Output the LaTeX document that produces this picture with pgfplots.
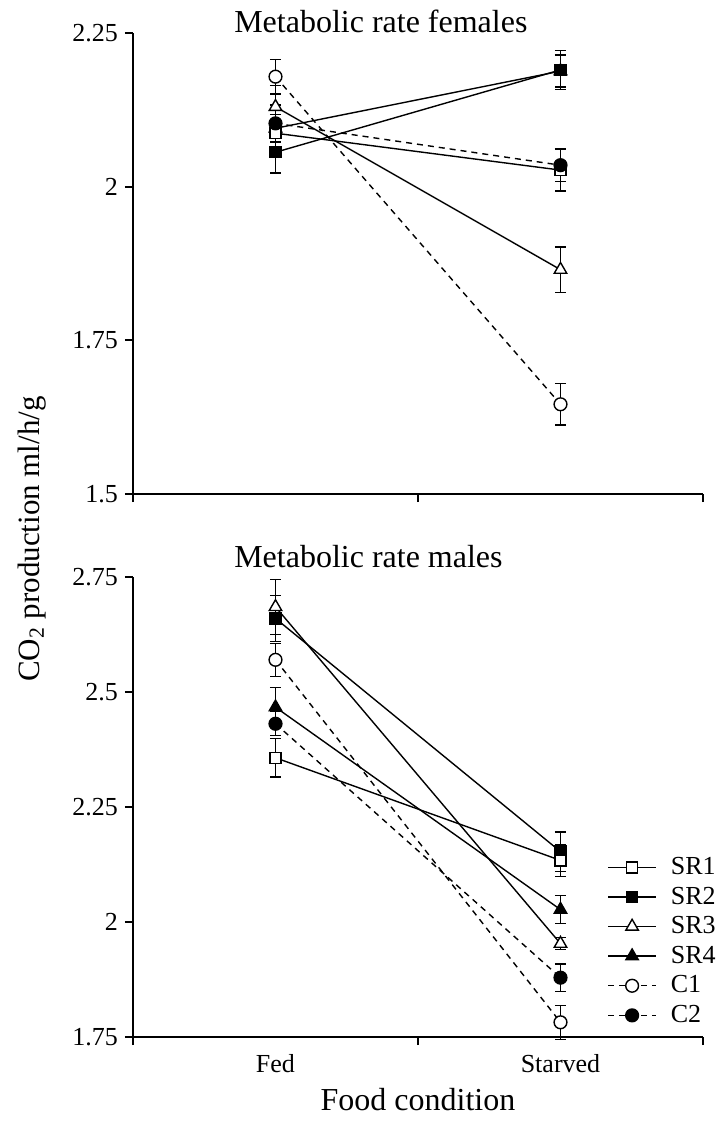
\documentclass[border=0pt]{standalone}
\usepackage{fontspec}
\setmainfont{Liberation Serif}
\usepackage{pgfplots}
\pgfplotsset{compat=1.18}

\pgfplotsset{
  panel/.style={
    scale only axis, width=285pt,
    xmin=0, xmax=2, enlargelimits=false,
    axis lines*=left, axis line style={-, line width=1pt},
    tick align=outside, major tick length=4pt,
    every tick/.style={black, line width=1pt},
    xtick={0,1,2}, xticklabels={},
    tick label style={font=\fontsize{13}{15}\selectfont},
    /pgf/number format/assume math mode=true,
    clip=false,
    every axis title shift=0pt,
    title style={anchor=base west, at={(0.177,1)}, inner sep=0pt, font=\fontsize{16}{19}\selectfont},
  },
  srline/.style={black, solid, line width=0.7pt},
  cline/.style={black, dash pattern=on 3pt off 2.5pt, line width=0.7pt},
  errb/.style={error bars/.cd, y dir=both, y explicit,
    error bar style={solid, line width=0.7pt, black},
    error mark options={rotate=90, mark size=2.75pt, line width=0.7pt, solid, black}, /pgfplots/.cd},
  mSRa/.style={mark=square*, mark size=2.75pt, mark options={solid, fill=white, line width=0.7pt}},
  mSRb/.style={mark=square*, mark size=2.75pt, mark options={solid, fill=black, line width=0.7pt}},
  mSRc/.style={mark=triangle*, mark size=3.6pt, mark options={solid, fill=white, line width=0.7pt}},
  mSRd/.style={mark=triangle*, mark size=3.6pt, mark options={solid, fill=black, line width=0.7pt}},
  mCa/.style={mark=*, mark size=3.2pt, mark options={solid, fill=white, line width=0.7pt}},
  mCb/.style={mark=*, mark size=3.2pt, mark options={solid, fill=black, line width=0.7pt}},
}

\begin{document}
\begin{tikzpicture}
\useasboundingbox (0,0) rectangle (360pt,-560.5pt);

% ---------------- females ----------------
\begin{axis}[panel, at={(66.5pt,-247pt)}, anchor=south west, height=230.5pt,
  ymin=1.5, ymax=2.25, ytick={1.5,1.75,2,2.25},
  title={Metabolic rate females}, title style={yshift=0.5pt}]
\addplot[srline, mSRd, errb] coordinates {(0.5,2.095) +- (0,0.030) (1.5,2.188) +- (0,0.026)};
\addplot[srline, mSRc, errb] coordinates {(0.5,2.130) +- (0,0.035) (1.5,1.865) +- (0,0.037)};
\addplot[srline, mSRb, errb] coordinates {(0.5,2.056) +- (0,0.034) (1.5,2.190) +- (0,0.032)};
\addplot[srline, mSRa, errb] coordinates {(0.5,2.087) +- (0,0.030) (1.5,2.027) +- (0,0.034)};
\addplot[cline, mCa, errb] coordinates {(0.5,2.179) +- (0,0.028) (1.5,1.646) +- (0,0.034)};
\addplot[cline, mCb, errb] coordinates {(0.5,2.103) +- (0,0.030) (1.5,2.035) +- (0,0.027)};
\end{axis}

% ---------------- males ----------------
\begin{axis}[panel, at={(66.5pt,-518.5pt)}, anchor=south west, height=230pt,
  ymin=1.75, ymax=2.75, ytick={1.75,2,2.25,2.5,2.75},
  title={Metabolic rate males}, title style={yshift=5pt},
  extra x ticks={0.5,1.5}, extra x tick labels={Fed,Starved},
  extra x tick style={major tick length=0pt, xticklabel style={anchor=base, yshift=-17.5pt}},
  xlabel={Food condition},
  xlabel style={at={(axis description cs:0.5,0)}, anchor=base, yshift=-36.5pt, font=\fontsize{16}{19}\selectfont},
  legend cell align=left,
  legend style={draw=none, fill=none, at={(0.8316,0.208)}, anchor=west,
    font=\fontsize{13}{13}\selectfont, row sep=2.7pt, inner sep=0pt,
    nodes={inner sep=1pt},
    /tikz/every odd column/.append style={column sep=6pt}},
  legend image code/.code={\draw[mark repeat=2, mark phase=2, #1] plot coordinates {(0pt,0pt) (12pt,0pt) (24pt,0pt)};},
]
\addlegendimage{srline, mSRa}
\addlegendimage{srline, mSRb}
\addlegendimage{srline, mSRc}
\addlegendimage{srline, mSRd}
\addlegendimage{cline, mCa}
\addlegendimage{cline, mCb}
\legend{SR1,SR2,SR3,SR4,C1,C2}
\addplot[forget plot, srline, mSRd, errb] coordinates {(0.5,2.467) +- (0,0.043) (1.5,2.027) +- (0,0.030)};
\addplot[forget plot, srline, mSRc, errb] coordinates {(0.5,2.685) +- (0,0.060) (1.5,1.953) +- (0,0.013)};
\addplot[forget plot, srline, mSRb, errb] coordinates {(0.5,2.660) +- (0,0.050) (1.5,2.153) +- (0,0.043)};
\addplot[forget plot, srline, mSRa, errb] coordinates {(0.5,2.357) +- (0,0.042) (1.5,2.134) +- (0,0.035)};
\addplot[forget plot, cline, mCa, errb] coordinates {(0.5,2.570) +- (0,0.036) (1.5,1.782) +- (0,0.037)};
\addplot[forget plot, cline, mCb, errb] coordinates {(0.5,2.431) +- (0,0.026) (1.5,1.879) +- (0,0.030)};
\end{axis}

\node[rotate=90, font=\fontsize{15.5}{18}\selectfont] at (16pt,-269.5pt) {CO\textsubscript{2} production ml/h/g};
\end{tikzpicture}
\end{document}
